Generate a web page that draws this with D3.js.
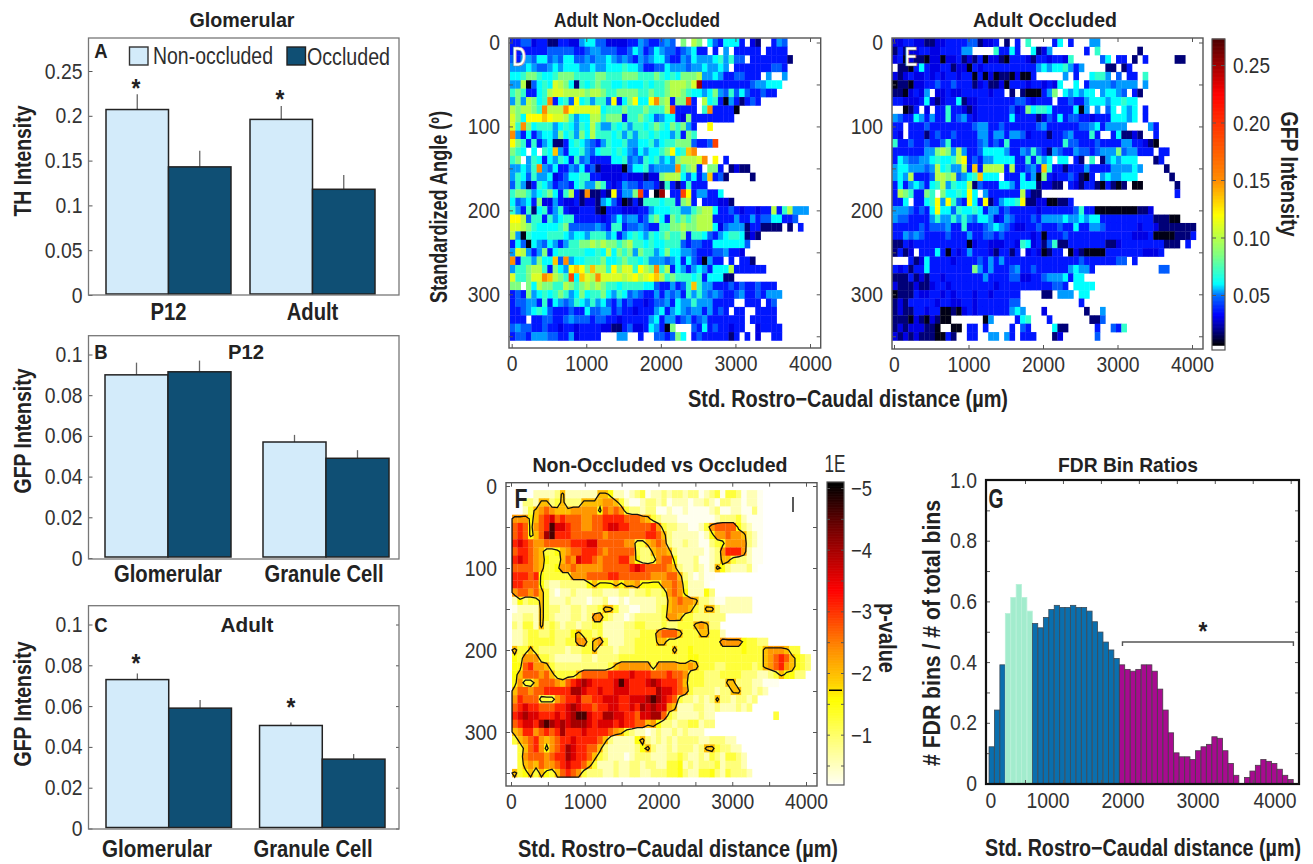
<!DOCTYPE html>
<html><head><meta charset="utf-8">
<script src="https://cdnjs.cloudflare.com/ajax/libs/d3/7.8.5/d3.min.js"></script>
<style>
html,body{margin:0;padding:0;background:#fff}
svg{display:block}
text{font-family:"Liberation Sans",Arimo,sans-serif;fill:#2e2e2e}
.b{font-weight:700;fill:#222}
.axis path,.axis line{stroke:#555;stroke-width:1;fill:none}
.axis text{font-size:22px;fill:#333}
</style></head><body><svg id="c" width="1313" height="864"><defs><filter id="bl" x="-2%" y="-2%" width="104%" height="104%"><feGaussianBlur stdDeviation="0.55"/></filter></defs></svg>
<script>
// ---------- bar panels ----------
const seriesNames=["Non-occluded","Occluded"];
const panelACats=["P12","Adult"];
const panelAMeans=[[0.207,0.143],[0.196,0.118]];
const panelAErrTop=[[0.224,0.161],[0.211,0.134]];
const panelATicks=[0,0.05,0.1,0.15,0.2,0.25];
const panelBCats=["Glomerular","Granule Cell"];
const panelBMeans=[[0.090,0.0915],[0.057,0.049]];
const panelBErrTop=[[0.096,0.097],[0.0605,0.053]];
const panelCCats=["Glomerular","Granule Cell"];
const panelCMeans=[[0.073,0.059],[0.0505,0.034]];
const panelCErrTop=[[0.076,0.063],[0.052,0.0365]];
const gfpTicks=[0,0.02,0.04,0.06,0.08,0.1];
// ---------- G histogram ----------
const fdrRatios=[.121,.242,.391,.56,.613,.656,.613,.568,.527,.513,.547,.573,.587,.58,.58,.587,.58,.58,.568,.533,.499,.466,.44,.412,.391,.376,.37,.376,.391,.391,.37,.311,.242,.167,.101,.088,.088,.079,.108,.121,.129,.154,.149,.108,.066,.027,0,.02,.041,.06,.079,.073,.066,.047,.027,.013];
const fdrGroups=[0,0,0,1,1,1,1,1,0,0,0,0,0,0,0,0,0,0,0,0,0,0,0,0,2,2,2,2,2,2,2,2,2,2,2,2,2,2,2,2,2,2,2,2,2,2,2,2,2,2,2,2,2,2,2,2];
const fdrFill=["#0a6fae","#a2eccd","#a80a90"];
const fdrStroke=["#3a4a58","#b8f0d8","#4a3a48"];
// ---------- GFP heat levels (one char per bin) ----------
const gfpLevelChars="0123456789abcdef";
const gfpLevelValues=[.008,.018,.03,.036,.047,.053,.06,.07,.085,.1,.11,.12,.135,.15,.19,.25];
const gridD=[
"3344233113 3225664422 2233543345 4.8.98.643 6663.21..3 54",
"3333333444 4433455444 3346534654 4345633.3. 5.33333.33 33",
"4355466454 6644545565 4543545664 3354655567 5744.33333 331",
"5556544565 6665565566 6766533446 5554556556 5.33333334 43",
"6678876678 8877778877 7888777876 7688895565 3344333.5. .5",
"5590467 6a9 861767877 6676667677 8 9998af3333 3333345566 6",
"7873367 9aa 999989987 7888877877 8 9987665 68 5474643343 3",
"5859867d36 74b675774b 368b66bd89 388e3.9673 0531343",
"98998 7d999 db aaaaa677 78777877 79e3333.7d 3 3330",
"a86bbbcbaa 9756699788 8377876456 6328333333 33",
"a7d8677756 7657697557 6757767876 8785 3..b..",
"d536356658 6758697776 7575776766 57387",
"b873735611 3676543576 6755667567 78884334e",
"876.6.76c5 3667546776 7654656678 b67cd",
"78.5763657 6374533336 6745476756 58999ad.b. 3.",
"55657d5463 3546341222 2046674555 5d7893.883 .1211",
"5764755623 4667733222 2322212289 9964635c34 1....1",
"4751376534 4367558732 3544344317 3137333",
"7887567863 7931d1121b 3558e3.0f. 33eb355336",
"6456382253 2231221564 2013177767 7389 3.33322 1",
"7537167357 3223331033 3222335666 7755789963 3432332339 379555",
"bb94773756 7733333234 6455347863 8787899933 3353353446 6334",
"aa98766667 8444445437 7344543377 8898899962 4555133111 1.1.3",
"9507666777 6566577756 3567657678 7783776435 6776121",
"3640654653 5778898988 7897767667 7743443366 66664",
"5a95358367 7777667696 8785877568 6655433344 5332",
"d377586 6c4 d566777866 7877675554 5636430533 .3.331",
"5778997386 5bcb8c997b 8aa7b98d79 3653565366 69333333",
"a778aadc98 7e6ca9daaa a9ab9abc97 8777673666 11",
"88.8698877 9878989877 6777766433 5347c75533 3434334333",
"3438567678 7568677865 7645433535 4537575454 3345334355 5",
"3445537365 4576575643 5343323445 3655755533 33..333.34",
"3345676433 3433644553 4332333563 5654553534 3.33..3333",
"333.334433 4544434433 2333335635 5345345333 3333.33333",
"4544334332 3323333221 1342236530 8...436343 3233..2333 3",
"3443555443 352333 3... 55..3..443 486.343333 313.3.2..3 3"
];
const gridE=[
"2233221122 3333441223 .1.3.7.... 36.3...55.",
"1312233223 33355....7 3363..6125 ......3.7. ......1",
"2302110220 2231213022 1033321332 3327.....4 6.33.1.3.. ...11.",
".1103632 23 3122032333 3333333565 6675 35.... 11.13.",
"2123223232 3323303020 1102003... ..5.3..677 5.4.33.7",
"0110223343 3433312311 2033323323 26..6.3555 5455 55.5.",
"1102325.22 3223333323 3.1.100035 8.65656 6.5 66 54.3 1.",
"3322236212 3361223333 3334432333 .334335666 5667 66...",
"..013.2.33 7332123333 3342386776 3333605.5. 46.6 56.3",
"5433653533 7345323333 3363333124 3634433233 366656.3",
"33.3334333 3333345533 4333333453 3333344563 5555 ....53",
"32.3331343 3433335535 5355423331 3345333 73. .361121..3",
"7334334334 7333334534 3733333333 3374433343 3335533210",
"3333335589 8595334666 6533547431 5433544345 5584553 33. 33",
"3654455676 679b343556 6663373756 .66.31.7.1 565666...1 3",
"5665554596 7559 3c3999 9393345 3c7 3313335333 3555565... .1",
"5659333499 8945 67c666 .3336350 83 2334310 3.5 6556 66.... ..1",
"3635653679 5766914333 6653666122 11.3213310 3101.00... ...1",
"3987338 7.8 667 6b6.533 3333931 1.. .......... .......... ...3",
"336.336 7b5 b743b63b13 5667b11220 0113",
"5554343 6b6 647 6676355 3433333233 3333473300 0000001 12.",
"5443333575 5757546652 3543334355 5565565663 3333333331 1100",
"3333343444 5337333456 5432233433 3433633554 3333332332 111111 1",
"3354543333 4333533443 4333332303 3343333333 3333322230 0001113",
"1132333333 3333023322 2332762314 7113333333 1123333333 3111.3",
"1312.33363 0323533321 3313.23201 33.0210000 3333333222 3",
"...3126333 3233334353 5333333333 3333343333 3344.3.",
"3231336333 3333385353 3345334333 3335655 3.. .......... 44",
"1113121332 3333333533 3344223345 5563 66...",
"2111211233 2333333332 3333333333 443.6666.",
"0111322332 3233323323 3333....11 .555.66.",
"1213333323 3223323333 3344...... .....3",
"1211332330 0102323333 3356 5...2. ......1..5",
"1110210210 0......05. ...367...3 .......114",
"121222110. .00.33.3.. ..3.43.... 611.....3. .437",
"2121211100 31..33..55 .53.333... 12......4."
];
const pLevelChars="0123456789ab";
const pLevelValues=[.22,.55,.9,1.25,1.5,2.0,2.3,2.7,3.1,3.6,4.0,4.6];
const pContourLevel=1.72;
const gridF=[
"",
"....111125 1111115541 1012301121 2212201230 3320110...",
"..22155235 2225555665 3100122120 1110112102 2110110...",
"..13567655 5666664767 6322122001 0010000120 0110020...",
"6664578978 7776677888 8777653211 1000000012 22310 00..",
"7874678b99 8776677899 8877778632 2110013677 7742100...",
"7874 57ab88 8777777677 7777788752 1111101466 7665210...",
"8987667777 7888997777 7663356762 1121100234 6666210...",
"7887653345 6778887677 7773225665 2111110126 8886100...",
"8987654335 7698876777 8864223677 4111200125 5322100...",
"7777653346 6766666777 7789877776 5211210154 211120....",
"8887843333 3666777788 7777776667 7521010 0..",
"8877742112 2222454445 4556444466 7631110...",
"6776753101 1211122111 2212232236 7641114 2..",
"1423353111 2111011200 1011111225 6766522100 11111...",
"0111153221 1221223553 1100111235 6665325521 11111...",
"1122153211 1221266321 1012222236 6533222222 ..",
"2133152321 2212233111 1223322232 2333565 22.",
"1123322322 2453323111 1222333677 7533355331",
"1123333322 3366356311 1223333553 3333333336 6664332 2..",
"5335322222 1223352221 2223333333 5334333333 3334333566 653 3..",
"4366633211 1112212222 3333333333 3334433333 3333333567 875432",
"4478665322 2222222235 6666663666 6556533322 3333323567 865432",
"4577767533 3357777788 8898887778 7763332223 3332221123 54422.",
"4633577765 789a988889 b9888 9a988 8753332222 5522211000",
"5776778888 8aa9889889 9988888a99 8763222212 2552212 1..",
"6877733367 8897788999 8899 9aba98 7322121252 2122 12....",
"7898877788 9a98878899 889 8a9a996 5111221121 1121 2.....",
"89a9988898 9abb988aa9 9887 99aa73 21111211.. ......... 3",
"7899 8aba9a 9aaa989998 9887756422 1223312 2..",
"5688678 78a 8889888876 5321101211 212111....",
"3567865678 8988887521 1114521212 1222211222 11..",
".357864678 a988775211 1112452112 1222125532 211..",
".367776788 a988753211 1012221112 2321121321 3321.",
".356576678 9887531112 1122122113 3412122231 2221.",
"5345354357 8763222112 1122112223 3421133421 32221."
];
// ---------- colour-bars / axis values ----------
const gfpTickValues=[.05,.10,.15,.20,.25];
const gfpColorStops=[[.006,"#000000"],[.02,"#00008c"],[.033,"#0000ff"],[.05,"#0070ff"],[.06,"#00ffff"],[.085,"#80ff80"],[.12,"#ffff00"],[.15,"#ff8c00"],[.2,"#ff3000"],[.225,"#ff0000"],[.25,"#a00000"],[.272,"#500000"]];
const pTickValues=[1,2,3,4,5];
const pColorStops=[[.22,"#ffffee"],[.87,"#ffff80"],[1.56,"#ffff00"],[1.84,"#ffd000"],[2.37,"#ff9000"],[2.9,"#ff4000"],[3.34,"#ff0000"],[4.26,"#800000"],[5.06,"#000000"]];
const angleTicks=[0,50,100,150,200,250,300,350];
const angleLabels=[0,100,200,300];
const distTicks=[0,1000,2000,3000,4000];
const distTicksHalf=[0,500,1000,1500,2000,2500,3000,3500,4000];
const ratioTicks=[0,.1,.2,.3,.4,.5,.6,.7,.8,.9,1];
const ratioLabels=[0,.2,.4,.6,.8,1];
const distLabelSpots=[0,1000,2000,3000,4000];
const distLabelPx=[991,1048,1123,1198,1275];

const svg=d3.select("#c");
function txt(x,y,s,size,cls,rot,anchor,width){
  const t=svg.append("text").attr("font-size",size).attr("text-anchor",anchor||"middle").text(s);
  if(cls)t.attr("class",cls);
  t.attr("transform",`translate(${x},${y})`+(rot?` rotate(${rot})`:""));
  if(width)t.attr("textLength",width).attr("lengthAdjust","spacingAndGlyphs");
  return t;
}
function frame(x0,y0,x1,y1,col,w){
  svg.append("rect").attr("x",x0).attr("y",y0).attr("width",x1-x0).attr("height",y1-y0)
    .attr("fill","none").attr("stroke",col||"#555").attr("stroke-width",w||1.4);
}
const stopScale=st=>d3.scaleLinear().domain(st.map(d=>d[0])).range(st.map(d=>d[1])).clamp(true);
const gfpColor=stopScale(gfpColorStops), pColor=stopScale(pColorStops);

function barPanel(o){
  const {cats,means,errs,ticks,fx0,fx1,fy0,fy1,barX0,barX1,y0px,vPx,vVal}=o;
  const y=d3.scaleLinear().domain([0,vVal]).range([y0px,vPx]);
  const gx=d3.scaleBand().domain(cats).range([barX0,barX1]).paddingInner(o.pad).paddingOuter(0);
  const sx=d3.scaleBand().domain(seriesNames).range([0,gx.bandwidth()]);
  const cols=["#d3ebfa","#0f4f74"];
  cats.forEach((c,i)=>{
    seriesNames.forEach((s,j)=>{
      const xx=gx(c)+sx(s), bw=sx.bandwidth();
      svg.append("line").attr("x1",xx+bw/2).attr("x2",xx+bw/2).attr("y1",y(means[i][j])).attr("y2",y(errs[i][j])).attr("stroke","#666").attr("stroke-width",1.3);
      svg.append("rect").attr("x",xx).attr("width",bw).attr("y",y(means[i][j])).attr("height",y0px-y(means[i][j])-1).attr("fill",cols[j]).attr("stroke","#222").attr("stroke-width",1.5);
    });
  });
  const ax=svg.append("g").attr("class","axis").attr("transform",`translate(${fx0},0)`)
    .call(d3.axisLeft(y).tickValues(ticks).tickFormat(d3.format("~g")).tickSize(-4).tickPadding(6));
  ax.select(".domain").remove();
  if(o.right){
    const ar=svg.append("g").attr("class","axis").attr("transform",`translate(${fx1},0)`).call(d3.axisRight(y).tickValues(ticks).tickFormat("").tickSize(-3));
    ar.select(".domain").remove();
  }
  frame(fx0,fy0,fx1,fy1,"#777",1.3);
  return {y,gx,sx};
}
// A
const A=barPanel({cats:panelACats,means:panelAMeans,errs:panelAErrTop,ticks:panelATicks,fx0:88.5,fx1:399,fy0:38,fy1:295,barX0:106,barX1:375,pad:.132,y0px:295,vPx:71,vVal:.25});
txt(242,27,"Glomerular",21,"b",0,"middle",105);
txt(101,58,"A",21,"b");
svg.append("rect").attr("x",129.5).attr("y",47).attr("width",18.5).attr("height",18).attr("fill","#d3ebfa").attr("stroke","#333").attr("stroke-width",1.4);
svg.append("rect").attr("x",287).attr("y",47).attr("width",18.5).attr("height",18).attr("fill","#0f4f74").attr("stroke","#222").attr("stroke-width",1.4);
txt(153,64,seriesNames[0],23,null,0,"start",120);
txt(307,65,seriesNames[1],23,null,0,"start",83);
txt(136,97,"*",26,"b");txt(280,108,"*",26,"b");
panelACats.forEach(c=>txt(A.gx(c)+A.gx.bandwidth()/2,320,c,23,"b"));
txt(31,161,"TH Intensity",23,"b",-90,"middle",111);
// B
const B=barPanel({cats:panelBCats,means:panelBMeans,errs:panelBErrTop,ticks:gfpTicks,fx0:88.5,fx1:399,fy0:335.7,fy1:559,barX0:105,barX1:389,pad:.2025,y0px:558,vPx:354.5,vVal:.1});
txt(101,359,"B",21,"b");txt(246,359,"P12",21,"b",0,"middle",36);
txt(168,582,panelBCats[0],23,"b",0,"middle",108);txt(324,582,panelBCats[1],23,"b",0,"middle",119);
txt(31,431,"GFP Intensity",23,"b",-90,"middle",125);
// C
const C=barPanel({cats:panelCCats,means:panelCMeans,errs:panelCErrTop,ticks:gfpTicks,fx0:88.5,fx1:399,fy0:605.7,fy1:829,barX0:106,barX1:385,pad:.183,y0px:828.5,vPx:624.5,vVal:.1,right:true});
txt(101,632,"C",21,"b");txt(247,632,"Adult",21,"b",0,"middle",53);
txt(136,672,"*",26,"b");txt(291,716,"*",26,"b");
txt(157,857,panelCCats[0],23,"b",0,"middle",110);txt(313,857,panelCCats[1],23,"b",0,"middle",119);
txt(31,704,"GFP Intensity",23,"b",-90,"middle",125);

// heat maps
function heat(o){
  const x=d3.scaleLinear().domain([0,4000]).range(o.xr), y=d3.scaleLinear().domain([0,300]).range(o.yr);
  const bw=o.bw, off=o.off, rh=10;
  const g=svg.append("g").attr("filter","url(#bl)");
  o.grid.forEach((row,r)=>{
    row.replace(/ /g,"").split("").forEach((ch,c)=>{
      const idx=o.chars.indexOf(ch); if(idx<0)return;
      const v=o.vals[idx], xa=x(off+c*bw), xb=x(off+(c+1)*bw), ya=y(r*rh-5), yb=y(r*rh+5);
      g.append("rect").attr("x",xa).attr("y",ya).attr("width",xb-xa+.3).attr("height",yb-ya+.3).attr("fill",o.color(v));
    });
  });
  return {x,y,bw,off};
}
function heatAxes(o,h){
  const ab=svg.append("g").attr("class","axis").attr("transform",`translate(0,${o.fy1})`).call(d3.axisBottom(h.x).tickValues(o.xt).tickFormat(d=>distLabelSpots.includes(d)?d:"").tickSize(-4).tickPadding(7));
  ab.select(".domain").remove();
  const at=svg.append("g").attr("class","axis").attr("transform",`translate(0,${o.fy0})`).call(d3.axisTop(h.x).tickValues(o.xt).tickFormat("").tickSize(-4));
  at.select(".domain").remove();
  const al=svg.append("g").attr("class","axis").attr("transform",`translate(${o.fx0},0)`).call(d3.axisLeft(h.y).tickValues(angleTicks).tickFormat(d=>angleLabels.includes(d)?d:"").tickSize(-4).tickPadding(o.pad||9));
  al.select(".domain").remove();
  const ar=svg.append("g").attr("class","axis").attr("transform",`translate(${o.fx1},0)`).call(d3.axisRight(h.y).tickValues(angleTicks).tickFormat("").tickSize(-4));
  ar.select(".domain").remove();
  frame(o.fx0,o.fy0,o.fx1,o.fy1,"#555",1.4);
}
const cfgD={grid:gridD,chars:gfpLevelChars,vals:gfpLevelValues,color:gfpColor,bw:71.5,xr:[511.7,810],yr:[42.5,294.3],off:-23,fx0:509,fx1:820.7,fy0:38,fy1:348,xt:distTicks};
const hD=heat(cfgD);heatAxes(cfgD,hD);
const cfgE={grid:gridE,chars:gfpLevelChars,vals:gfpLevelValues,color:gfpColor,bw:71.5,xr:[894,1192],yr:[42.5,294.3],off:-23,fx0:892,fx1:1203,fy0:38,fy1:349,xt:distTicks};
const hE=heat(cfgE);heatAxes(cfgE,hE);
txt(637,27,"Adult Non-Occluded",21,"b",0,"middle",166);
txt(1045,27,"Adult Occluded",21,"b",0,"middle",144);
txt(447,207,"Standardized Angle (º)",23,"b",-90,"middle",192);
txt(848,407,"Std. Rostro\u2212Caudal distance (µm)",23,"b",0,"middle",320);
txt(519,66,"D",27,"b",0,"middle",14).attr("style","fill:#fff;stroke:#888;stroke-width:.7");
txt(911,66,"E",27,"b",0,"middle",13).attr("style","fill:#fff;stroke:#555;stroke-width:.7");
// GFP colourbar
const cbY=d3.scaleLinear().domain([.05,.25]).range([295,65]);
d3.range(.0065,.2726,.0005).forEach(v=>svg.append("rect").attr("x",1212).attr("y",cbY(v)-.5).attr("width",13).attr("height",1.2).attr("fill",gfpColor(v)));
const cbA=svg.append("g").attr("class","axis").attr("transform","translate(1212,0)").call(d3.axisRight(cbY).tickValues(gfpTickValues).tickFormat("").tickSize(4));
cbA.select(".domain").remove();
const cbB=svg.append("g").attr("class","axis").attr("transform","translate(1225,0)").call(d3.axisLeft(cbY).tickValues(gfpTickValues).tickFormat("").tickSize(4));
cbB.select(".domain").remove();
cbA.selectAll("line").attr("stroke","#000");cbB.selectAll("line").attr("stroke","#000");
frame(1212,39,1225,350,"#555",1.2);
gfpTickValues.forEach(v=>txt(1233,cbY(v)+8,d3.format(".2f")(v),22,null,0,"start",37));
txt(1281,174,"GFP Intensity",23,"b",90,"middle",125);

// F
const cfgF={grid:gridF,chars:pLevelChars,vals:pLevelValues,color:pColor,bw:72.3,xr:[511,806],yr:[486,732],off:14,fx0:506,fx1:817,fy0:482.7,fy1:786,xt:distTicksHalf};
const hF=heat(cfgF);heatAxes(cfgF,hF);
const nc=56,nr=36,grid=new Array(nc*nr).fill(0);
gridF.forEach((row,r)=>row.replace(/ /g,"").split("").forEach((ch,c)=>{const i=pLevelChars.indexOf(ch);if(i>=0&&c<nc)grid[r*nc+c]=pLevelValues[i];}));
const cx0=hF.x(hF.off), cw=hF.x(hF.off+hF.bw)-cx0, cy0=hF.y(-5), ch=hF.y(5)-cy0;
const proj=d3.geoTransform({point(x,y){this.stream.point(cx0+x*cw,cy0+y*ch);}});
svg.append("path").datum(d3.contours().size([nc,nr]).contour(grid,pContourLevel)).attr("d",d3.geoPath(proj)).attr("fill","none").attr("stroke","#111").attr("stroke-width",1.3);
txt(660,472,"Non-Occluded vs Occluded",21,"b",0,"middle",255);
txt(678,857,"Std. Rostro\u2212Caudal distance (µm)",23,"b",0,"middle",320);
txt(521,508,"F",27,"b",0,"middle",13);
svg.append("line").attr("x1",793).attr("x2",793).attr("y1",497).attr("y2",512).attr("stroke","#222").attr("stroke-width",1.5);
// p colourbar
const pY=d3.scaleLinear().domain([2,5]).range([673,488]);
d3.range(.22,5.1,.01).forEach(v=>svg.append("rect").attr("x",827).attr("y",pY(v)-.5).attr("width",17).attr("height",1.2).attr("fill",pColor(v)));
const pMinor=d3.range(.5,5.1,.5);
const pa=svg.append("g").attr("class","axis").attr("transform","translate(827,0)").call(d3.axisRight(pY).tickValues(pMinor).tickFormat("").tickSize(3));
const pb=svg.append("g").attr("class","axis").attr("transform","translate(844,0)").call(d3.axisLeft(pY).tickValues(pMinor).tickFormat("").tickSize(3));
pa.select(".domain").remove();pb.select(".domain").remove();
pa.selectAll("line").attr("stroke","#000");pb.selectAll("line").attr("stroke","#000");
svg.append("line").attr("x1",829).attr("x2",842).attr("y1",pY(pContourLevel)).attr("y2",pY(pContourLevel)).attr("stroke","#000").attr("stroke-width",1.5);
frame(827,482,844,785,"#555",1.2);
pTickValues.forEach(v=>txt(851,pY(v)+8,"\u2212"+v,22,null,0,"start",21));
txt(835,472,"1E",23,null,0,"middle",21);
txt(879,638,"p-value",23,"b",90,"middle",70);

// G
const gx=d3.scaleLinear().domain([500,4000]).range([1025,1290.7]);
const gy=d3.scaleLinear().domain([0,1]).range([783.5,480]);
const gBw=71.6,gOff=26;
svg.selectAll(".gb").data(fdrRatios).enter().append("rect").attr("class","gb")
 .attr("x",(d,i)=>gx(gOff+i*gBw)).attr("width",gx(gBw)-gx(0)-.2).attr("y",d=>gy(d)).attr("height",d=>gy(0)-gy(d))
 .attr("fill",(d,i)=>fdrFill[fdrGroups[i]]).attr("stroke",(d,i)=>fdrStroke[fdrGroups[i]]).attr("stroke-width",.8);
const gb=svg.append("g").attr("class","axis").attr("transform","translate(0,784)").call(d3.axisBottom(gx).tickValues(distTicksHalf.slice(1)).tickFormat("").tickSize(-4));
const gt=svg.append("g").attr("class","axis").attr("transform","translate(0,480)").call(d3.axisTop(gx).tickValues(distTicksHalf.slice(1)).tickFormat("").tickSize(-4));
const gl=svg.append("g").attr("class","axis").attr("transform","translate(986,0)").call(d3.axisLeft(gy).tickValues(ratioTicks).tickFormat(d=>ratioLabels.includes(d)?(d===0?"0":d3.format(".1f")(d)):"").tickSize(-4).tickPadding(9));
const gr=svg.append("g").attr("class","axis").attr("transform","translate(1299,0)").call(d3.axisRight(gy).tickValues(ratioTicks).tickFormat("").tickSize(-4));
[gb,gt,gl,gr].forEach(a=>a.select(".domain").remove());
frame(986,480,1299,784,"#111",2.2);
distLabelSpots.forEach((d,i)=>txt(distLabelPx[i],808,d,22).attr("style","fill:#333"));
const by=gy(.466);
svg.append("path").attr("d",`M${gx(gOff+24*gBw)+3},${by+4}V${by}H${gx(gOff+56*gBw)}V${by+4}`).attr("fill","none").attr("stroke","#555").attr("stroke-width",1.4);
txt(1203,640,"*",26,"b");
txt(1128,472,"FDR Bin Ratios",21,"b",0,"middle",140);
txt(940,633,"# FDR bins / # of total bins",23,"b",-90,"middle",266);
txt(1143,856,"Std. Rostro\u2212Caudal distance (µm)",23,"b",0,"middle",316);
txt(996,508,"G",27,"b",0,"middle",15);

// condense remaining text (reference face is a narrow grotesque)
svg.selectAll("text").each(function(){
  if(this.hasAttribute("textLength")||!this.textContent)return;
  const len=this.getComputedTextLength();
  if(len>0)d3.select(this).attr("textLength",len*.88).attr("lengthAdjust","spacingAndGlyphs");
});
</script></body></html>
